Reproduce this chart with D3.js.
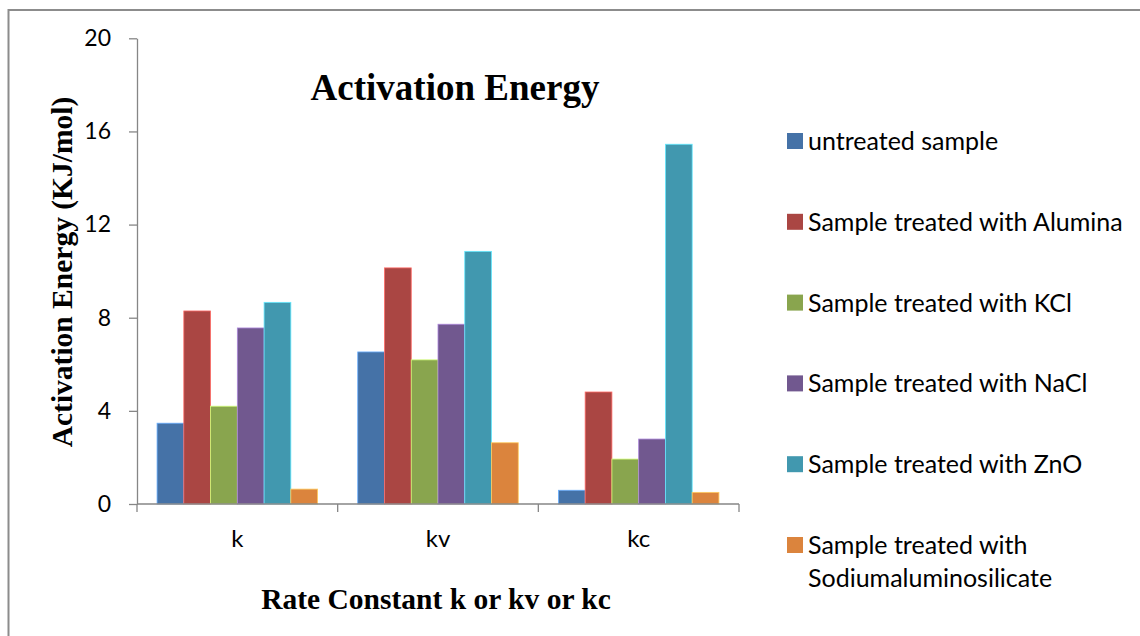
<!DOCTYPE html>
<html>
<head>
<meta charset="utf-8">
<script src="https://cdn.jsdelivr.net/npm/d3@7"></script>
<style>
  html, body { margin: 0; padding: 0; background: #fff; }
  svg { display: block; }
</style>
</head>
<body>
<svg id="chart" width="1140" height="636"></svg>
<script>
// Rate-constant categories and the activation energy of each sample type (KJ/mol)
const categories = ["k", "kv", "kc"];
const seriesNames = [
  "untreated sample",
  "Sample treated with Alumina",
  "Sample treated with KCl",
  "Sample treated with NaCl",
  "Sample treated with ZnO",
  "Sample treated with Sodiumaluminosilicate"
];
const untreated = [3.47, 6.53, 0.59];
const alumina   = [8.29, 10.14, 4.81];
const kcl       = [4.20, 6.19, 1.93];
const nacl      = [7.56, 7.72, 2.79];
const zno       = [8.66, 10.85, 15.45];
const sodiumAl  = [0.64, 2.63, 0.50];
const yTicks = [0, 4, 8, 12, 16, 20];

const seriesValues = [untreated, alumina, kcl, nacl, zno, sodiumAl];
const colors = ["#4572A7", "#AA4643", "#89A54E", "#71588F", "#4198AF", "#DB843D"];

const svg = d3.select("#chart");
const W = 1140, H = 636;

// outer chart frame
svg.append("rect")
  .attr("x", 8.5).attr("y", 10).attr("width", W + 20).attr("height", H + 20)
  .attr("fill", "#fff").attr("stroke", "#8c8c8c").attr("stroke-width", 2);

const plot = { left: 137, top: 38.3, width: 602, height: 465.7 };
const g = svg.append("g").attr("transform", `translate(${plot.left},${plot.top})`);

const x0 = d3.scaleBand().domain(categories).range([0, plot.width]).padding(0);
const x1 = d3.scaleBand().domain(d3.range(seriesNames.length))
  .range([0, x0.bandwidth()]).paddingInner(0).paddingOuter(0.75);
const y = d3.scaleLinear().domain([0, 20]).range([plot.height, 0]);

// bars
const rows = [];
categories.forEach((c, ci) => {
  seriesValues.forEach((vals, si) => rows.push({ c, si, v: vals[ci] }));
});
g.append("g").selectAll("rect").data(rows).join("rect")
  .attr("x", d => x0(d.c) + x1(d.si))
  .attr("y", d => y(d.v))
  .attr("width", x1.bandwidth())
  .attr("height", d => y(0) - y(d.v))
  .attr("fill", d => colors[d.si])
  .attr("stroke", d => d3.color(colors[d.si]).brighter(1.2))
  .attr("stroke-width", 0.8);

const axisColor = "#868686";

// y axis
const yAxis = g.append("g")
  .call(d3.axisLeft(y).tickValues(yTicks).tickSize(8).tickPadding(18).tickSizeOuter(0));
yAxis.select(".domain").attr("stroke", axisColor).attr("stroke-width", 1.3);
yAxis.selectAll(".tick line").attr("stroke", axisColor).attr("stroke-width", 1.3);
yAxis.selectAll(".tick text")
  .attr("font-family", "Lato, 'Open Sans', sans-serif")
  .attr("font-size", 23).attr("fill", "#000");

// x axis: baseline with ticks between categories
const xAxisG = g.append("g").attr("transform", `translate(0,${plot.height})`);
xAxisG.append("line")
  .attr("x1", 0).attr("x2", plot.width).attr("y1", 0).attr("y2", 0)
  .attr("stroke", axisColor).attr("stroke-width", 1.3);
const boundaries = categories.map(c => x0(c)).concat([x0.range()[1]]);
xAxisG.selectAll("line.tk").data(boundaries).join("line")
  .attr("class", "tk")
  .attr("x1", d => d).attr("x2", d => d).attr("y1", 0).attr("y2", 8)
  .attr("stroke", axisColor).attr("stroke-width", 1.3);
xAxisG.selectAll("text").data(categories).join("text")
  .attr("x", d => x0(d) + x0.bandwidth() / 2)
  .attr("y", 43)
  .attr("text-anchor", "middle")
  .attr("font-family", "Lato, 'Open Sans', sans-serif")
  .attr("font-size", 24).attr("fill", "#000")
  .text(d => d);

// titles
svg.append("text")
  .attr("x", 455).attr("y", 100)
  .attr("text-anchor", "middle")
  .attr("font-family", "'Liberation Serif', 'Times New Roman', serif")
  .attr("font-weight", "bold").attr("font-size", 37)
  .text("Activation Energy");

svg.append("text")
  .attr("transform", "translate(72,272) rotate(-90)")
  .attr("text-anchor", "middle")
  .attr("font-family", "'Liberation Serif', 'Times New Roman', serif")
  .attr("font-weight", "bold").attr("font-size", 29.5)
  .text("Activation Energy (KJ/mol)");

svg.append("text")
  .attr("x", 436).attr("y", 609)
  .attr("text-anchor", "middle")
  .attr("font-family", "'Liberation Serif', 'Times New Roman', serif")
  .attr("font-weight", "bold").attr("font-size", 29.5)
  .text("Rate Constant k or kv or kc");

// legend
const legendLines = [
  ["untreated sample"],
  ["Sample treated with Alumina"],
  ["Sample treated with KCl"],
  ["Sample treated with NaCl"],
  ["Sample treated with ZnO"],
  ["Sample treated with", "Sodiumaluminosilicate"]
];
const legend = svg.append("g").attr("transform", "translate(787,141)");
const items = legend.selectAll("g").data(legendLines).join("g")
  .attr("transform", (d, i) => `translate(0,${i * 80.8})`);
items.append("rect")
  .attr("x", 0).attr("y", -8).attr("width", 16).attr("height", 16)
  .attr("fill", (d, i) => colors[i]);
items.append("text")
  .attr("x", 21).attr("y", 9)
  .attr("font-family", "Lato, 'Open Sans', sans-serif")
  .attr("font-size", 25).attr("fill", "#000")
  .selectAll("tspan").data(d => d).join("tspan")
  .attr("x", 21).attr("dy", (d, i) => i === 0 ? 0 : 33)
  .text(d => d);
</script>
</body>
</html>
